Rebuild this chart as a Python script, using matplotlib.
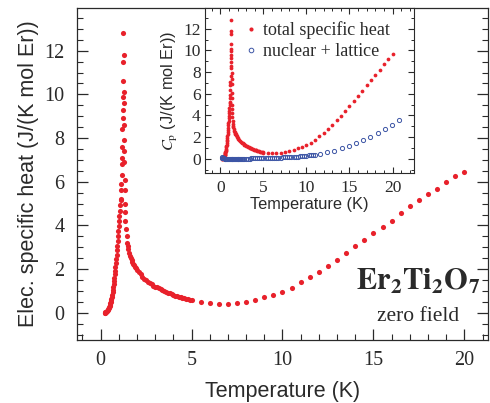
import matplotlib.pyplot as plt
from matplotlib.ticker import MultipleLocator

# electronic specific heat
t_rise = [0.22, 0.24, 0.26, 0.28, 0.30, 0.33, 0.36, 0.39, 0.42, 0.45, 0.48, 0.50,
          0.52, 0.54, 0.56, 0.58, 0.60, 0.62, 0.64, 0.66, 0.68, 0.70, 0.72, 0.74,
          0.76, 0.78, 0.80, 0.82, 0.84, 0.86, 0.88, 0.90, 0.92, 0.94, 0.96, 0.98,
          1.00, 1.02, 1.04, 1.06, 1.08, 1.10]
c_rise = [0.00, 0.01, 0.02, 0.03, 0.05, 0.07, 0.10, 0.13, 0.17, 0.22, 0.28, 0.33,
          0.38, 0.44, 0.50, 0.57, 0.64, 0.73, 0.83, 0.94, 1.06, 1.18, 1.31, 1.45,
          1.60, 1.76, 1.92, 2.09, 2.27, 2.46, 2.66, 2.87, 3.08, 3.30, 3.52, 3.74,
          3.97, 4.20, 4.44, 4.68, 4.92, 5.16]

t_peak = [1.12, 1.14, 1.15, 1.16, 1.17, 1.18, 1.19, 1.20, 1.21, 1.22, 1.23, 1.24,
          1.25, 1.26, 1.27, 1.28, 1.28, 1.29, 1.30, 1.30, 1.31, 1.32, 1.33, 1.34,
          1.35, 1.37, 1.40, 1.43, 1.46, 1.49]
c_peak = [5.23, 5.60, 5.90, 6.30, 6.80, 7.10, 7.60, 8.40, 8.90, 9.30, 9.90, 10.60,
          11.50, 12.80, 11.80, 10.10, 9.60, 8.60, 7.90, 7.40, 6.90, 6.10, 5.60, 5.00,
          4.60, 4.20, 3.85, 3.50, 3.20, 3.05]

t_fall = [1.52, 1.55, 1.60, 1.65, 1.70, 1.75, 1.80, 1.85, 1.90, 1.95, 2.00, 2.10,
          2.20, 2.30, 2.40, 2.50, 2.60, 2.70, 2.80, 2.90, 3.00, 3.10, 3.20, 3.30,
          3.40, 3.50, 3.60, 3.70, 3.80, 3.90, 4.00, 4.10, 4.20, 4.30, 4.40, 4.50,
          4.60, 4.70, 4.80, 4.90, 5.00]
c_fall = [2.90, 2.75, 2.60, 2.50, 2.42, 2.33, 2.25, 2.18, 2.10, 2.03, 1.96, 1.86,
          1.76, 1.66, 1.55, 1.49, 1.43, 1.37, 1.31, 1.25, 1.20, 1.16, 1.12, 1.07,
          1.03, 0.99, 0.96, 0.92, 0.89, 0.85, 0.82, 0.79, 0.77, 0.74, 0.71, 0.69,
          0.66, 0.64, 0.62, 0.60, 0.58]

t_tail = [5.5, 6.0, 6.5, 7.0, 7.5, 8.0, 8.5, 9.0, 9.5, 10.0, 10.5, 11.0, 11.5,
          12.0, 12.5, 13.0, 13.5, 14.0, 14.5, 15.0, 15.5, 16.0, 16.5, 17.0, 17.5,
          18.0, 18.5, 19.0, 19.5, 20.0]
c_tail = [0.51, 0.45, 0.40, 0.42, 0.45, 0.51, 0.60, 0.71, 0.82, 0.97, 1.13, 1.39,
          1.62, 1.87, 2.14, 2.42, 2.73, 3.04, 3.33, 3.66, 3.94, 4.21, 4.57, 4.88,
          5.17, 5.46, 5.69, 5.97, 6.24, 6.43]

# inset: total specific heat above 5 K (below it equals the electronic data)
ctot_tail = [0.56, 0.52, 0.49, 0.54, 0.59, 0.68, 0.80, 0.95, 1.09, 1.27, 1.47, 1.77,
             2.06, 2.40, 2.76, 3.13, 3.55, 3.99, 4.40, 4.88, 5.32, 5.76, 6.29, 6.78,
             7.25, 7.76, 8.21, 8.72, 9.24, 9.68]

# inset: nuclear + lattice
t_bg = [0.20, 0.25, 0.30, 0.35, 0.40, 0.50, 0.60, 0.70, 0.80, 0.90, 1.00, 1.10,
        1.20, 1.30, 1.40, 1.50, 1.60, 1.70, 1.80, 1.90, 2.00, 2.10, 2.20, 2.30,
        2.40, 2.50, 2.60, 2.80, 3.00, 3.20, 3.40, 3.60, 3.80, 4.00, 4.25, 4.50,
        4.75, 5.00, 5.25, 5.50, 5.75, 6.00, 6.25, 6.50, 6.75, 7.00, 7.25, 7.50,
        7.75, 8.00, 8.25, 8.50, 8.75, 9.00, 9.25, 9.50, 9.75, 10.00, 10.25, 10.50,
        10.75, 11.00, 11.6, 12.4, 13.2, 14.1, 14.9, 15.7, 16.6, 17.4, 18.3, 19.1,
        19.9, 20.7]
c_bg = [0.15, 0.09, 0.06, 0.04, 0.03, 0.02, 0.01, 0.01, 0.01, 0.01, 0.01, 0.01,
        0.01, 0.01, 0.01, 0.01, 0.01, 0.01, 0.01, 0.01, 0.01, 0.01, 0.01, 0.01,
        0.01, 0.01, 0.01, 0.01, 0.02, 0.02, 0.02, 0.03, 0.03, 0.03, 0.04, 0.04,
        0.05, 0.05, 0.06, 0.06, 0.07, 0.08, 0.08, 0.09, 0.10, 0.11, 0.12, 0.13,
        0.14, 0.15, 0.17, 0.18, 0.20, 0.21, 0.23, 0.25, 0.27, 0.29, 0.31, 0.33,
        0.35, 0.38, 0.45, 0.60, 0.75, 0.98, 1.20, 1.45, 1.72, 2.00, 2.35, 2.72,
        3.10, 3.60]

RED = "#e8212b"
BLUE = "#3c55a5"
INK = "#2a2a2a"

plt.rcParams["mathtext.fontset"] = "stix"
plt.rcParams["axes.edgecolor"] = INK
plt.rcParams["xtick.color"] = INK
plt.rcParams["ytick.color"] = INK

SERIF = "Liberation Serif"
SANS = "Liberation Sans"

fig = plt.figure(figsize=(4.9, 4.03), dpi=100)
ax = fig.add_axes([0.157, 0.156, 0.839, 0.824])

t_el = t_rise + t_peak + t_fall + t_tail
c_el = c_rise + c_peak + c_fall + c_tail
ax.plot(t_el, c_el, "o", color=RED, ms=3.7, mew=0)

ax.set_xlim(-1.3, 21.3)
ax.set_ylim(-1.25, 13.95)
ax.xaxis.set_major_locator(MultipleLocator(5))
ax.xaxis.set_minor_locator(MultipleLocator(1))
ax.yaxis.set_major_locator(MultipleLocator(2))
ax.yaxis.set_minor_locator(MultipleLocator(0.5))
ax.tick_params(which="both", direction="in", right=True, top=False)
ax.tick_params(which="major", length=8, width=0.9)
ax.tick_params(which="minor", length=4, width=0.8)
ax.tick_params(axis="x", pad=8)
ax.tick_params(axis="y", pad=9)
for lab in ax.get_xticklabels() + ax.get_yticklabels():
    lab.set_fontfamily(SERIF)
    lab.set_fontsize(14.5)
    lab.set_color(INK)
for s in ax.spines.values():
    s.set_linewidth(0.9)
ax.set_xlabel("Temperature (K)", family=SANS, fontsize=15.5, color=INK, labelpad=8)
ax.set_ylabel("Elec. specific heat (J/(K mol Er))", family=SANS, fontsize=15.5,
              color=INK, labelpad=4)

ax.text(0.83, 0.178, r"$\mathbf{Er}_\mathbf{2}\mathbf{Ti}_\mathbf{2}\mathbf{O}_\mathbf{7}$",
        transform=ax.transAxes, ha="center", va="center", fontsize=22, color=INK)
ax.text(0.83, 0.072, "zero field", transform=ax.transAxes, ha="center", va="center",
        family=SERIF, fontsize=15.5, color=INK)

# inset
ins = fig.add_axes([0.418, 0.571, 0.427, 0.409])
t_tot = t_rise + t_peak + t_fall + t_tail
c_tot = c_rise + c_peak + c_fall + ctot_tail
ins.plot(t_tot, c_tot, "o", color=RED, ms=2.7, mew=0, label="total specific heat")
ins.plot(t_bg, c_bg, "o", mfc="none", mec=BLUE, ms=3.0, mew=0.7,
         label="nuclear + lattice")
ins.set_xlim(-1.8, 22.5)
ins.set_ylim(-1.3, 13.9)
ins.xaxis.set_major_locator(MultipleLocator(5))
ins.xaxis.set_minor_locator(MultipleLocator(1))
ins.yaxis.set_major_locator(MultipleLocator(2))
ins.yaxis.set_minor_locator(MultipleLocator(1))
ins.tick_params(which="both", direction="in", right=True, top=True)
ins.tick_params(which="major", length=4.5, width=0.8)
ins.tick_params(which="minor", length=2.5, width=0.7)
ins.tick_params(axis="x", pad=5)
ins.tick_params(axis="y", pad=3)
for lab in ins.get_xticklabels() + ins.get_yticklabels():
    lab.set_fontfamily(SERIF)
    lab.set_fontsize(12.5)
    lab.set_color(INK)
for s in ins.spines.values():
    s.set_linewidth(0.8)
ins.set_xlabel("Temperature (K)", family=SANS, fontsize=11.8, color=INK, labelpad=1)
ins.set_ylabel(r"$C_\mathrm{p}$ (J/(K mol Er))", family=SANS, fontsize=11.8,
               color=INK, labelpad=2)
leg = ins.legend(loc="upper left", bbox_to_anchor=(0.09, 1.02), frameon=False,
                 handletextpad=0.1, handlelength=1.2, labelspacing=0.25,
                 prop={"family": SERIF, "size": 13}, markerscale=1.1)
for txt in leg.get_texts():
    txt.set_color(INK)

fig.savefig("out.png", dpi=100)
